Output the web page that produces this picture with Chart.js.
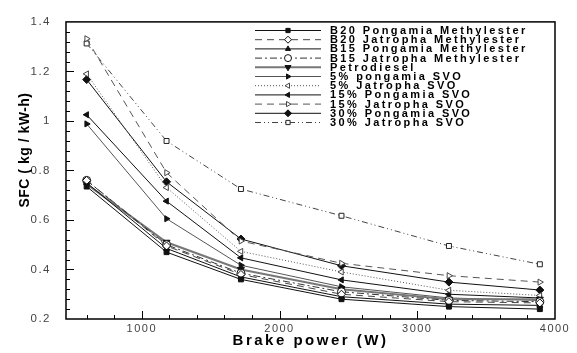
<!DOCTYPE html>
<html>
<head>
<meta charset="utf-8">
<script src="https://cdn.jsdelivr.net/npm/chart.js@4/dist/chart.umd.js"></script>
<style>html,body{margin:0;padding:0;background:#fff}</style>
</head>
<body>
<canvas id="grafico" width="577" height="353"></canvas>
<script>
// potência no freio (W)
var power = [600, 1180, 1720, 2450, 3230, 3890];

// SFC (kg / kW-h) por combustível
var b20Pongamia = [0.735, 0.47, 0.36, 0.28, 0.25, 0.24];
var b20Jatropha = [0.76, 0.495, 0.38, 0.30, 0.27, 0.265];
var b15Pongamia = [0.75, 0.485, 0.37, 0.29, 0.26, 0.255];
var b15Jatropha = [0.76, 0.50, 0.385, 0.31, 0.275, 0.27];
var petrodiesel = [0.745, 0.51, 0.40, 0.32, 0.28, 0.28];
var svo5Pongamia = [0.988, 0.605, 0.417, 0.33, 0.285, 0.275];
var svo5Jatropha = [1.19, 0.731, 0.473, 0.39, 0.316, 0.295];
var svo15Pongamia = [1.025, 0.676, 0.447, 0.358, 0.30, 0.285];
var svo15Jatropha = [1.332, 0.791, 0.515, 0.425, 0.375, 0.349];
var svo30Pongamia = [1.167, 0.754, 0.523, 0.415, 0.349, 0.317];
var svo30Jatropha = [1.313, 0.919, 0.725, 0.617, 0.495, 0.421];

var labels = ['B20 Pongamia Methylester', 'B20 Jatropha Methylester', 'B15 Pongamia Methylester',
  'B15 Jatropha Methylester', 'Petrodiesel', '5% pongamia SVO', '5% Jatropha SVO',
  '15% Pongamia SVO', '15% Jatropha SVO', '30% Pongamia SVO', '30% Jatropha SVO'];

var xTicks = [1000, 2000, 3000, 4000];
var yTicks = [0.2, 0.4, 0.6, 0.8, 1.0, 1.2, 1.4];

function pts(arr) {
  return arr.map(function (v, i) { return { x: power[i], y: v }; });
}

function serie(i, valores, estilo) {
  var d = {
    label: labels[i],
    data: pts(valores),
    showLine: true,
    borderColor: '#111',
    borderWidth: 1,
    pointBorderColor: '#111',
    pointBackgroundColor: '#111',
    pointBorderWidth: 1,
    pointRadius: 3.5,
    pointStyle: 'circle',
    rotation: 0,
    borderDash: []
  };
  for (var k in estilo) d[k] = estilo[k];
  return d;
}

var datasets = [
  serie(0, b20Pongamia, { pointStyle: 'rect', pointRadius: 3.5 }),
  serie(1, b20Jatropha, { borderColor: '#444', borderDash: [7, 5], pointStyle: 'rectRot', pointBackgroundColor: '#fff', pointRadius: 4 }),
  serie(2, b15Pongamia, { pointStyle: 'triangle' }),
  serie(3, b15Jatropha, { borderColor: '#333', borderDash: [7, 3, 2, 3], pointBackgroundColor: '#fff', pointRadius: 4 }),
  serie(4, petrodiesel, { borderColor: '#777', borderWidth: 2, pointStyle: 'triangle', rotation: 180, pointRadius: 4 }),
  serie(5, svo5Pongamia, { borderColor: '#555', pointStyle: 'triangle', rotation: 90 }),
  serie(6, svo5Jatropha, { borderColor: '#555', borderDash: [1, 2], pointStyle: 'triangle', rotation: -90, pointBackgroundColor: '#fff', pointBorderColor: '#444' }),
  serie(7, svo15Pongamia, { pointStyle: 'triangle', rotation: -90 }),
  serie(8, svo15Jatropha, { borderColor: '#555', borderDash: [7, 5], pointStyle: 'triangle', rotation: 90, pointBackgroundColor: '#fff', pointBorderColor: '#444' }),
  serie(9, svo30Pongamia, { pointStyle: 'rectRot', pointRadius: 4 }),
  serie(10, svo30Jatropha, { borderColor: '#444', borderDash: [6, 3, 1, 3, 1, 3], pointStyle: 'rect', pointBackgroundColor: '#fff', pointBorderColor: '#222', pointRadius: 3.5 })
];

// moldura, marcas internas, títulos e legenda
var extras = {
  id: 'extras',
  beforeDraw: function (chart) {
    chart.ctx.letterSpacing = '1.5px';
  },
  afterDraw: function (chart) {
    var ctx = chart.ctx, a = chart.chartArea;
    var sx = chart.scales.x, sy = chart.scales.y;
    ctx.save();
    ctx.letterSpacing = '0px';
    ctx.strokeStyle = '#000';
    ctx.lineWidth = 1.5;
    ctx.strokeRect(a.left, a.top, a.right - a.left, a.bottom - a.top);
    ctx.lineWidth = 1;
    ctx.beginPath();
    for (var v = 600; v < 4000; v += 200) {
      var px = Math.round(sx.getPixelForValue(v)) + 0.5;
      var len = (v % 1000 === 0) ? 8 : 4;
      ctx.moveTo(px, a.bottom);
      ctx.lineTo(px, a.bottom - len);
    }
    for (var i = 1; i < 30; i++) {
      var yv = 0.2 + i * 0.04;
      var py = Math.round(sy.getPixelForValue(yv)) + 0.5;
      var l2 = (i % 5 === 0) ? 8 : 4;
      ctx.moveTo(a.left, py);
      ctx.lineTo(a.left + l2, py);
    }
    ctx.stroke();

    // títulos dos eixos
    ctx.fillStyle = '#000';
    ctx.textAlign = 'center';
    ctx.textBaseline = 'middle';
    ctx.font = 'bold 15px "Liberation Sans", Arial, sans-serif';
    ctx.letterSpacing = '2.5px';
    ctx.fillText('Brake power (W)', (a.left + a.right) / 2, 341);
    ctx.save();
    ctx.translate(25, 150);
    ctx.rotate(-Math.PI / 2);
    ctx.font = 'bold 14px "Liberation Sans", Arial, sans-serif';
    ctx.letterSpacing = '0.5px';
    ctx.fillText('SFC ( kg / kW-h)', 0, 0);
    ctx.restore();

    // legenda
    ctx.font = 'bold 11px "Liberation Sans", Arial, sans-serif';
    ctx.letterSpacing = '2.4px';
    ctx.textAlign = 'left';
    chart.data.datasets.forEach(function (d, k) {
      var y = 30.5 + k * 9.2;
      ctx.save();
      ctx.strokeStyle = d.borderColor;
      ctx.lineWidth = d.borderWidth;
      ctx.setLineDash(d.borderDash);
      ctx.beginPath();
      ctx.moveTo(255, y);
      ctx.lineTo(321, y);
      ctx.stroke();
      ctx.restore();
      ctx.save();
      ctx.strokeStyle = d.pointBorderColor;
      ctx.fillStyle = d.pointBackgroundColor;
      ctx.lineWidth = 1;
      Chart.helpers.drawPoint(ctx, { pointStyle: d.pointStyle, rotation: d.rotation, radius: d.pointRadius - 0.5, borderWidth: 1 }, 288, y);
      ctx.restore();
      ctx.fillStyle = '#000';
      ctx.fillText(d.label, 330, y + 0.5);
    });
    ctx.restore();
  }
};

var ctx = document.getElementById('grafico').getContext('2d');
var grafico = new Chart(ctx, {
  type: 'scatter',
  data: { datasets: datasets },
  options: {
    responsive: false,
    animation: false,
    devicePixelRatio: 1,
    layout: { padding: { left: 0, top: 12, right: 22, bottom: 0 } },
    plugins: { legend: { display: false }, tooltip: { enabled: false } },
    scales: {
      x: {
        type: 'linear', min: 450, max: 4000,
        grid: { display: false, drawTicks: false },
        border: { display: false },
        afterBuildTicks: function (s) { s.ticks = xTicks.map(function (v) { return { value: v }; }); },
        afterFit: function (s) { s.height = 34; },
        ticks: {
          color: '#444', padding: 3,
          font: { size: 11, family: '"Liberation Sans", Arial, sans-serif' },
          callback: function (v) { return String(v); }
        }
      },
      y: {
        min: 0.2, max: 1.4,
        grid: { display: false, drawTicks: false },
        border: { display: false },
        afterBuildTicks: function (s) { s.ticks = yTicks.map(function (v) { return { value: v }; }); },
        afterFit: function (s) { s.width = 66; },
        ticks: {
          color: '#444', padding: 15,
          font: { size: 11.5, family: '"Liberation Sans", Arial, sans-serif' },
          callback: function (v) { return String(Math.round(v * 10) / 10); }
        }
      }
    }
  },
  plugins: [extras]
});
</script>
</body>
</html>
